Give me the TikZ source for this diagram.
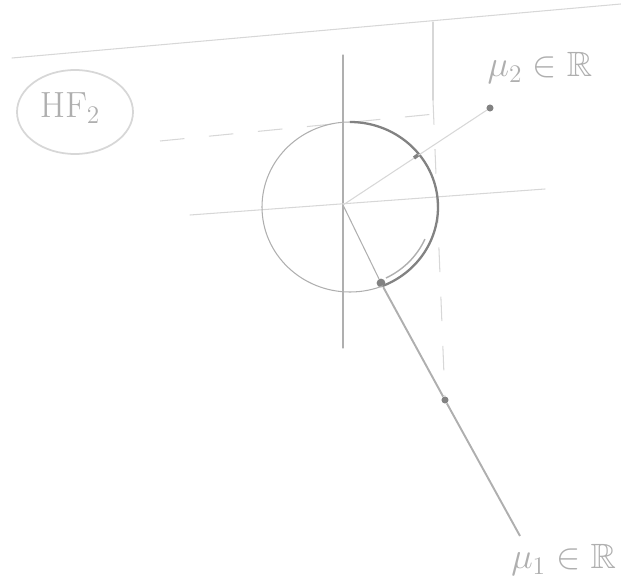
\documentclass[tikz,border=0pt]{standalone}
\usepackage{amsmath,amssymb}
\usepackage{xcolor}
\usepackage{tikz}
\usetikzlibrary{positioning,calc}
\definecolor{pencillight}{RGB}{215, 215, 215}
\definecolor{pencilgrey}{RGB}{175, 175, 175}
\definecolor{pencildark}{RGB}{130, 130, 130}

\begin{document}
\begin{tikzpicture}[x=0.02cm,y=0.02cm,
    pencil/.style={pencilgrey,line width=0.6pt,line cap=round},
    faint/.style={pencillight,line width=0.6pt,line cap=round},
    guide/.style={pencillight,line width=0.6pt,dash pattern=on 14pt off 14pt},
    dotmark/.style={circle,fill=pencildark,inner sep=0pt,minimum size=5pt},
    hand/.style={pencilgrey,font=\fontsize{20}{24}\selectfont}]
    \useasboundingbox (0,-584) rectangle (621,0);

    % key points
    \coordinate (O) at (343,-205);
    \coordinate (C) at (350,-207);
    \coordinate (Mtwo) at (490,-108);
    \coordinate (Mend) at (520,-536);
    \node[dotmark] (P) at (381,-283) {};
    \node[dotmark,minimum size=4pt] (Q) at (445,-400) {};
    \node[dotmark,minimum size=4pt] (U) at (Mtwo) {};

    % sheet edge and guide lines
    \draw[faint] (12,-58) -- (621,-4);
    \draw[guide] (160,-141) -- (445,-113);
    \draw[faint] (433,-22) -- (433,-100);
    \draw[guide] (433,-100) -- (Q);

    % axes
    \draw[pencil] (343,-55) -- (343,-348);
    \draw[faint] (190,-215) -- (545,-189);

    % unit circle and marked arc
    \draw[pencil] (C) ellipse (88 and 85);
    \draw[pencildark,line width=1.3pt] ([shift={(90:88 and 85)}]C)
        arc[start angle=90,end angle=-68,x radius=88,y radius=85];
    \draw[pencilgrey,line width=0.8pt] ([shift={(-64:82 and 79)}]C)
        arc[start angle=-64,end angle=-24,x radius=82,y radius=79];

    % directions mu_2 and mu_1
    \draw[faint] (O) -- (U);
    \draw[pencildark,line width=2pt] (414,-158) -- (418,-155);
    \draw[pencil] (O) -- (P);
    \draw[pencilgrey,line width=1.1pt] (P) -- (Q) -- (Mend);

    % labels
    \node[hand] (mutwo) at (540,-68) {$\mu_2 \in \mathbb{R}$};
    \node[hand,anchor=east,inner sep=1pt] (muone) at (618,-560) {$\mu_1 \in \mathbb{R}$};
    \draw[pencillight,line width=1pt] (75,-112) ellipse (58 and 42);
    \node[hand] (hf) at (70,-108) {$\mathrm{HF}_2$};
\end{tikzpicture}
\end{document}
